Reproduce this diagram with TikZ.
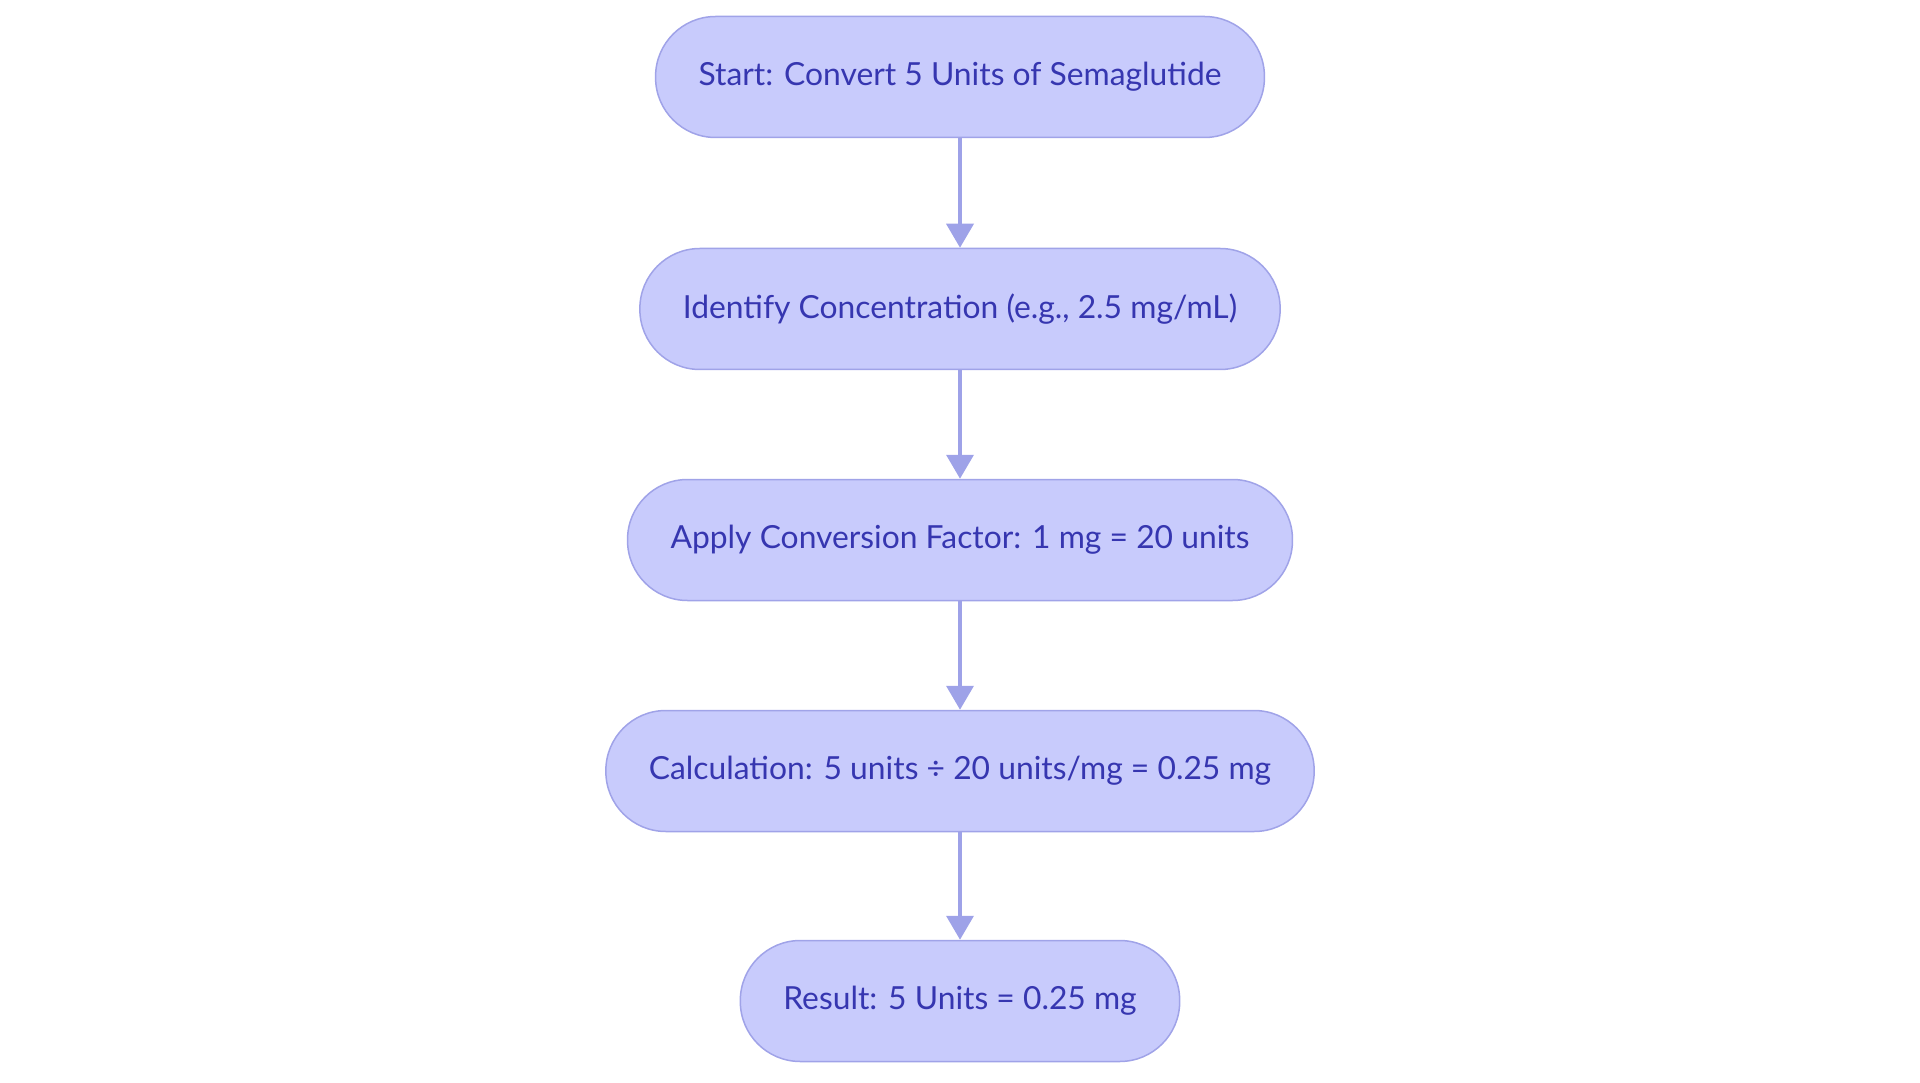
\documentclass[tikz,border=0pt]{standalone}
\usepackage{fontspec}
\setmainfont{Lato}
\usetikzlibrary{arrows.meta}
\definecolor{boxfill}{HTML}{C8CBFC}
\definecolor{boxline}{HTML}{A0A3E8}
\definecolor{boxtext}{HTML}{3636B0}
\definecolor{arrowcol}{HTML}{9EA2E8}
\begin{document}
\begin{tikzpicture}[arrow/.style = {line width=0.075cm,arrowcol,-{Triangle[length=0.48cm,width=0.54cm]}},
                    stage/.style = {draw=boxline,line width=0.03cm,fill=boxfill,text=boxtext,
                        rounded corners=1.2cm,minimum height=2.42cm,inner xsep=0.86cm,
                        font=\fontsize{18.1}{22}\selectfont}]
                \useasboundingbox (0,0) rectangle (38.4,-21.66);

                \node[stage] (start) at (19.2,-1.54)
                    {Start: Convert 5 Units of Semaglutide};
                \node[stage] (conc) at (19.2,-6.18)
                    {Identify Concentration (e.g., 2.5 mg/mL)};
                \node[stage] (factor) at (19.2,-10.8)
                    {Apply Conversion Factor: 1 mg = 20 units};
                \node[stage] (calc) at (19.2,-15.42)
                    {Calculation: 5 units ÷ 20 units/mg = 0.25 mg};
                \node[stage] (result) at (19.2,-20.02)
                    {Result: 5 Units = 0.25 mg};

                \draw[arrow] (start) -- (conc);
                \draw[arrow] (conc) -- (factor);
                \draw[arrow] (factor) -- (calc);
                \draw[arrow] (calc) -- (result);
            \end{tikzpicture}
\end{document}
